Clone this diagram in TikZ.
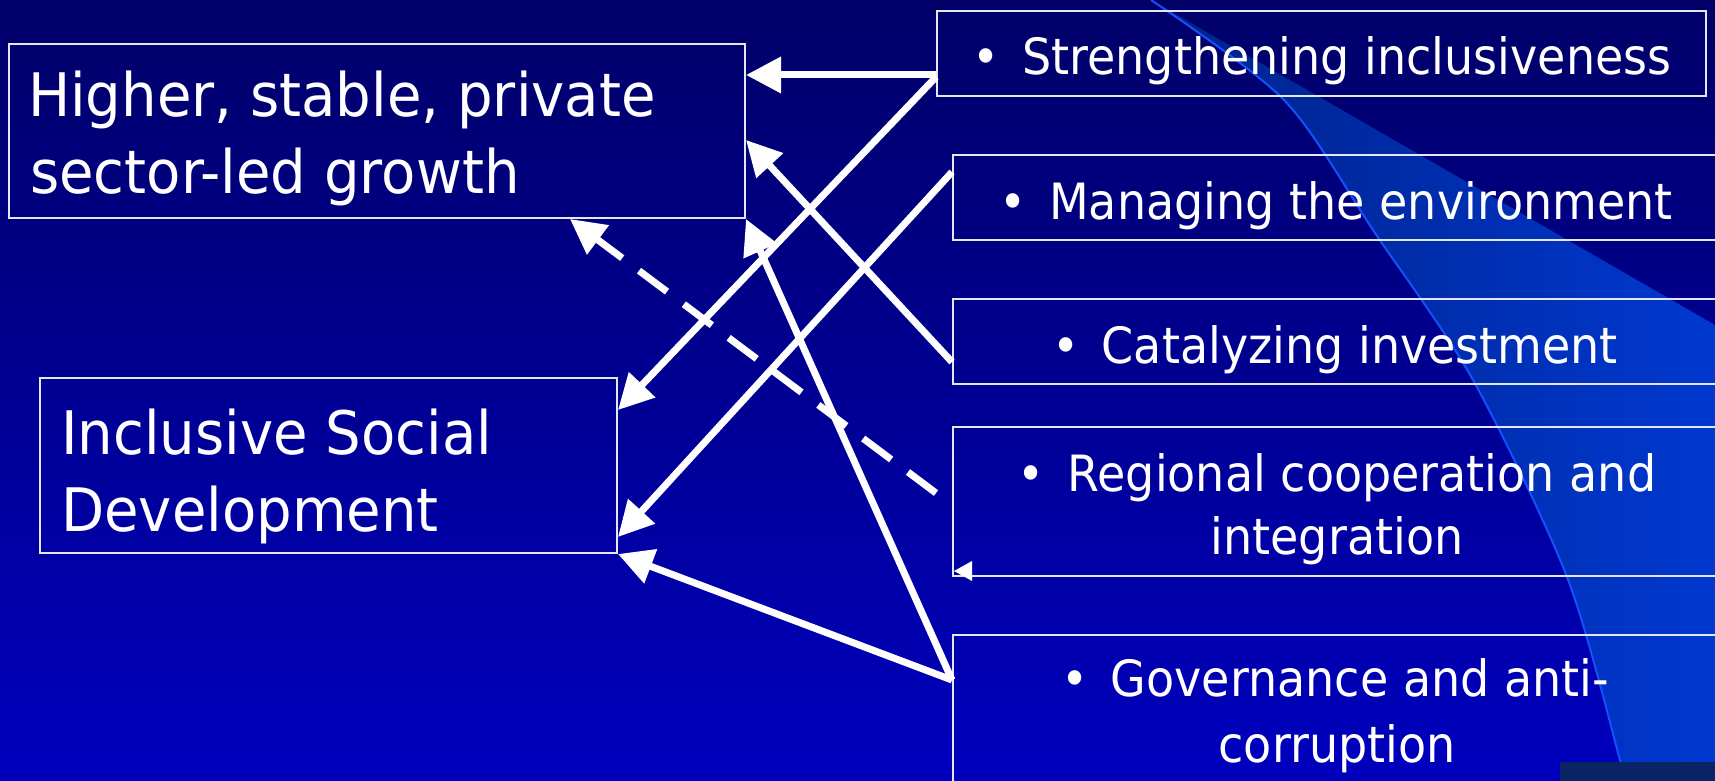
\documentclass[tikz,border=0pt]{standalone}
\usepackage{fontspec}
\setmainfont[FakeStretch=0.92]{DejaVu Sans}
\newfontfamily\bigfam[FakeStretch=0.935]{DejaVu Sans}
\usetikzlibrary{arrows.meta,calc}

\definecolor{bgtop}{RGB}{0,0,104}
\definecolor{bgbot}{RGB}{0,0,190}
\definecolor{bandl}{RGB}{0,34,136}
\definecolor{bandr}{RGB}{0,56,208}
\definecolor{bandline}{RGB}{20,80,255}
\definecolor{boxline}{RGB}{230,230,240}
\definecolor{darkstrip}{RGB}{10,36,102}

\begin{document}
\begin{tikzpicture}[x=1pt,y=-1pt,
  box/.style={draw=boxline, line width=2pt, inner sep=0pt, rectangle},
  bigtxt/.style={text=white, inner sep=0pt, anchor=base west, font=\bigfam\fontsize{60}{72}\selectfont},
  smtxt/.style={text=white, inner sep=0pt, anchor=base, font=\fontsize{50}{60}\selectfont},
  link/.style={draw=white, line width=7pt, -{Triangle[length=35pt,width=35pt]}},
  dlink/.style={link, dash pattern=on 35pt off 21pt, dash phase=36pt},
]
\useasboundingbox (0,0) rectangle (1715,781);
\clip (0,0) rectangle (1715,781);
% background
\shade[top color=bgtop, bottom color=bgbot] (0,0) rectangle (1715,781);
\shade[left color=bandl, right color=bandr] (1715,781) -- plot[smooth] coordinates {(1625,781) (1620,760) (1567,577) (1473,380) (1375,233) (1284,100) (1151,0)} -- (1715,325) -- cycle;
\draw[bandline, line width=2pt] plot[smooth] coordinates {(1625,781) (1620,760) (1567,577) (1473,380) (1375,233) (1284,100) (1151,0)};
\fill[darkstrip] (1560,762) rectangle (1715,781);

% boxes
\node[box, minimum width=736pt, minimum height=174pt] (hi) at (377,131) {};
\node[box, minimum width=577pt, minimum height=175pt] (isd) at (328.5,465.5) {};
\node[box, minimum width=769pt, minimum height=85pt] (s1) at (1321.5,53.5) {};
\node[box, minimum width=772pt, minimum height=85pt] (s2) at (1339,197.5) {};
\node[box, minimum width=772pt, minimum height=85pt] (s3) at (1339,341.5) {};
\node[box, minimum width=772pt, minimum height=149pt] (s4) at (1339,501.5) {};
\node[box, minimum width=772pt, minimum height=165pt] (s5) at (1339,717.5) {};

% connectors
\draw[link] ([yshift=-21.5pt]s1.west) -- ([yshift=56pt]hi.east);
\draw[link] ([yshift=-23.5pt]s1.west) -- ([yshift=55.5pt]isd.east);
\draw[link] ([yshift=25.5pt]s2.west) -- ([yshift=-71.5pt]isd.east);
\draw[link] ([yshift=-20.5pt]s3.west) -- ([yshift=-9pt]hi.east);
\draw[dlink] ([yshift=-3.5pt]s4.west) -- ([xshift=193pt]hi.south);
\draw[link] ([yshift=37.5pt]s5.west) -- (hi.south east);
\draw[link] ([yshift=37.5pt]s5.west) -- (isd.south east);
\coordinate (rtip) at ([xshift=2pt,yshift=6pt]s4.south west);
\fill[white] (rtip) -- ++(18,-10) -- ++(0,20) -- cycle;

% texts
\node[bigtxt] (hi1) at (28,117) {Higher, stable, private};
\node[bigtxt] (hi2) at (30,193) {sector-led growth};
\node[bigtxt] (isd1) at (61,454) {Inclusive Social};
\node[bigtxt] (isd2) at (61,531) {Development};
\node[smtxt] (t1) at (1322,75) {•\hspace{8pt} Strengthening inclusiveness};
\node[smtxt] (t2) at (1336,219) {•\hspace{8pt} Managing the environment};
\node[smtxt] (t3) at (1335,363) {•\hspace{8pt} Catalyzing investment};
\node[smtxt] (t4a) at (1337,491) {•\hspace{8pt} Regional cooperation and};
\node[smtxt] (t4b) at (1337,554) {integration};
\node[smtxt] (t5a) at (1335,696) {•\hspace{8pt} Governance and anti-};
\node[smtxt] (t5b) at (1337,762) {corruption};
\end{tikzpicture}
\end{document}
